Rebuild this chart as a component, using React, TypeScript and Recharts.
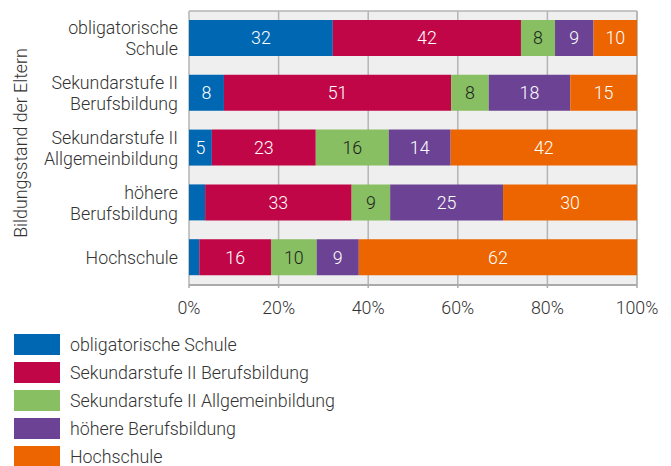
import { BarChart, Bar, XAxis, YAxis, CartesianGrid, LabelList } from 'recharts'

// Bildungsstand der Eltern (Zeilen)
const categories = [
  'obligatorische Schule',
  'Sekundarstufe II Berufsbildung',
  'Sekundarstufe II Allgemeinbildung',
  'höhere Berufsbildung',
  'Hochschule',
]

// Anteile in % je Abschluss (Serie), pro Zeile
const obligatorisch = [32.1, 7.8, 5.1, 3.6, 2.3]
const sekBeruf = [42.0, 50.7, 23.2, 32.7, 16.0]
const sekAllg = [7.6, 8.4, 16.3, 8.6, 10.2]
const hoehereBeruf = [8.6, 18.2, 13.8, 25.2, 9.4]
const hochschule = [9.7, 14.9, 41.6, 29.9, 62.1]

const xTicks = [0, 20, 40, 60, 80, 100]

const series = [
  { key: 'oblig', name: 'obligatorische Schule', values: obligatorisch, color: '#0067b2', text: '#ffffff' },
  { key: 'sekBeruf', name: 'Sekundarstufe II Berufsbildung', values: sekBeruf, color: '#c00647', text: '#ffffff' },
  { key: 'sekAllg', name: 'Sekundarstufe II Allgemeinbildung', values: sekAllg, color: '#87bf62', text: '#1e1e1e' },
  { key: 'hoehere', name: 'höhere Berufsbildung', values: hoehereBeruf, color: '#6c4394', text: '#ffffff' },
  { key: 'hochschule', name: 'Hochschule', values: hochschule, color: '#ec6500', text: '#ffffff' },
]

const data = categories.map((name, i) => {
  const row: Record<string, string | number> = { name }
  series.forEach(s => { row[s.key] = s.values[i] })
  return row
})

const FONT = 'Roboto, "Noto Sans", sans-serif'
const FS = 17.8

// Zeilenbeschriftung zweizeilig: am letzten Leerzeichen umbrechen
function CategoryTick({ x, y, payload }: any) {
  const label: string = payload.value
  const cut = label.lastIndexOf(' ')
  const lines = cut > 0 ? [label.slice(0, cut), label.slice(cut + 1)] : [label]
  const lh = 21
  const start = y - ((lines.length - 1) * lh) / 2
  return (
    <g>
      {lines.map((l, i) => (
        <text
          key={i}
          x={x - 3}
          y={start + i * lh}
          dy="0.35em"
          textAnchor="end"
          fill="#333"
          fontSize={FS}
          fontWeight={300}
          fontFamily={FONT}
        >
          {l}
        </text>
      ))}
    </g>
  )
}

export default function App() {
  return (
    <div style={{ position: 'absolute', left: 0, top: 0, width: 671, height: 466, background: '#fff', fontFamily: FONT }}>
      <BarChart
        width={671}
        height={325}
        layout="vertical"
        data={data}
        margin={{ top: 11, right: 34, bottom: 0, left: 0 }}
        barSize={36}
      >
        <CartesianGrid
          fill="#efefef"
          stroke="#b4b4b4"
          strokeWidth={1.5}
          horizontalPoints={[11, 285]}
        />
        <XAxis
          type="number"
          domain={[0, 100]}
          ticks={xTicks}
          tickFormatter={(v: number) => `${v}%`}
          height={40}
          axisLine={{ stroke: '#aaa', strokeWidth: 2 }}
          tickLine={{ stroke: '#aaa', strokeWidth: 1.5 }}
          tickSize={3}
          tickMargin={13}
          tick={{ fill: '#333', fontSize: FS, fontWeight: 300, fontFamily: FONT }}
        />
        <YAxis
          type="category"
          dataKey="name"
          width={189}
          axisLine={false}
          tickLine={false}
          tick={<CategoryTick />}
          label={{
            content: () => (
              <text
                x={21}
                y={143}
                transform="rotate(-90 21 143)"
                textAnchor="middle"
                dy="0.35em"
                fill="#333"
                fontSize={FS}
                fontWeight={300}
                fontFamily={FONT}
              >
                Bildungsstand der Eltern
              </text>
            ),
          }}
        />
        {series.map(s => (
          <Bar key={s.key} dataKey={s.key} name={s.name} stackId="a" fill={s.color} isAnimationActive={false}>
            <LabelList
              dataKey={s.key}
              position="center"
              formatter={(v: any) => (Number(v) < 4.5 ? '' : Math.round(Number(v)))}
              fill={s.text}
              fontSize={FS}
              fontWeight={300}
              fontFamily={FONT}
            />
          </Bar>
        ))}
      </BarChart>

      {/* Legende */}
      <div style={{ position: 'absolute', left: 14, top: 334 }}>
        {series.map(s => (
          <div key={s.key} style={{ display: 'flex', alignItems: 'center', height: 21, marginBottom: 7 }}>
            <div style={{ width: 46, height: 21, background: s.color }} />
            <span style={{ marginLeft: 10, fontSize: FS, fontWeight: 300, color: '#333', whiteSpace: 'nowrap' }}>{s.name}</span>
          </div>
        ))}
      </div>
    </div>
  )
}
